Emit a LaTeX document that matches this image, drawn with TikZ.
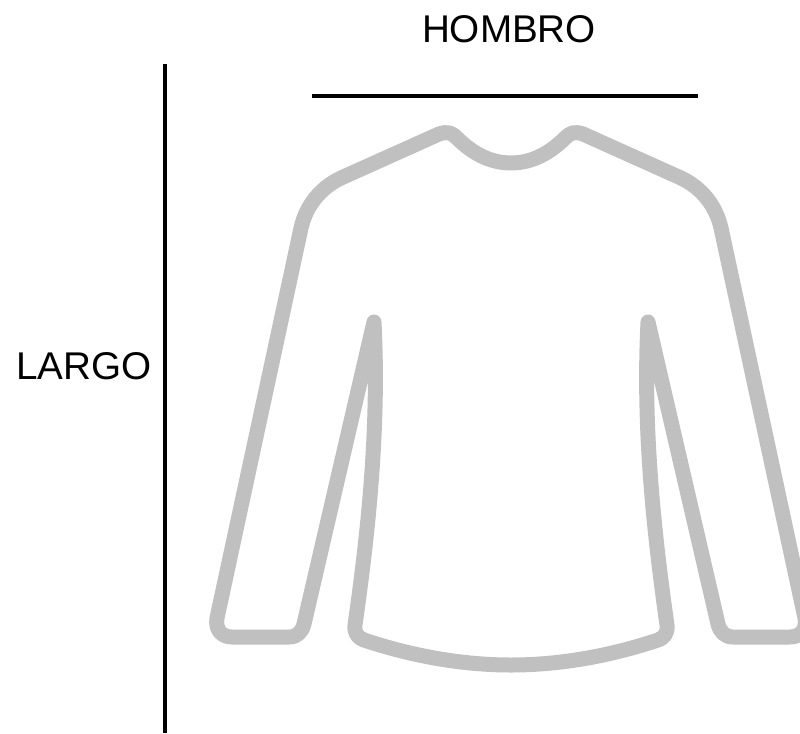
\documentclass[tikz,border=0pt]{standalone}
\usepackage{fontspec}
\setmainfont{Liberation Sans}

\tikzset{
    garment/.style={draw=garmentgray, line width=0.3cm, line join=round, line cap=round},
    measure/.style={draw=black, line width=0.085cm},
    caption/.style={font=\fontsize{22}{22}\selectfont, text=black, inner sep=0pt}
}
\definecolor{garmentgray}{RGB}{192,192,192}

\begin{document}
\begin{tikzpicture}[x=0.02cm, y=-0.02cm]
    \useasboundingbox (0,0) rectangle (800,733);

    % 1. measuring lines
    \coordinate (largotop) at (165,64);
    \coordinate (largobot) at (165,733);
    \coordinate (hombroleft) at (312,96);
    \coordinate (hombroright) at (698,96);
    \draw[measure] (largotop) -- (largobot);
    \draw[measure] (hombroleft) -- (hombroright);

    % 2. labels
    \node[caption] (hombro) at (509,29) {HOMBRO};
    \node[caption] (largo) at (84,366) {LARGO};

    % 3. sweater outline, neck first then clockwise
    \draw[garment] (511,163)
        .. controls (532,163) and (550,153) .. (565,138)
        .. controls (570,133) and (574,131) .. (583,134)
        -- (681,178)
        .. controls (702,188) and (716,206) .. (721,228)
        -- (805,618)
        .. controls (807,630) and (800,637) .. (790,637)
        -- (733,637)
        .. controls (725,637) and (720,632) .. (718,624)
        -- (648,322)
        .. controls (643,420) and (652,520) .. (667,625)
        .. controls (668,633) and (664,638) .. (658,640)
        .. controls (610,656) and (560,665) .. (511,665)
        .. controls (462,665) and (412,656) .. (364,640)
        .. controls (358,638) and (354,633) .. (355,625)
        .. controls (370,520) and (379,420) .. (374,322)
        -- (304,624)
        .. controls (302,632) and (297,637) .. (289,637)
        -- (232,637)
        .. controls (222,637) and (215,630) .. (217,618)
        -- (301,228)
        .. controls (306,206) and (320,188) .. (341,178)
        -- (439,134)
        .. controls (448,131) and (452,133) .. (457,138)
        .. controls (472,153) and (490,163) .. (511,163)
        -- cycle;
\end{tikzpicture}
\end{document}
